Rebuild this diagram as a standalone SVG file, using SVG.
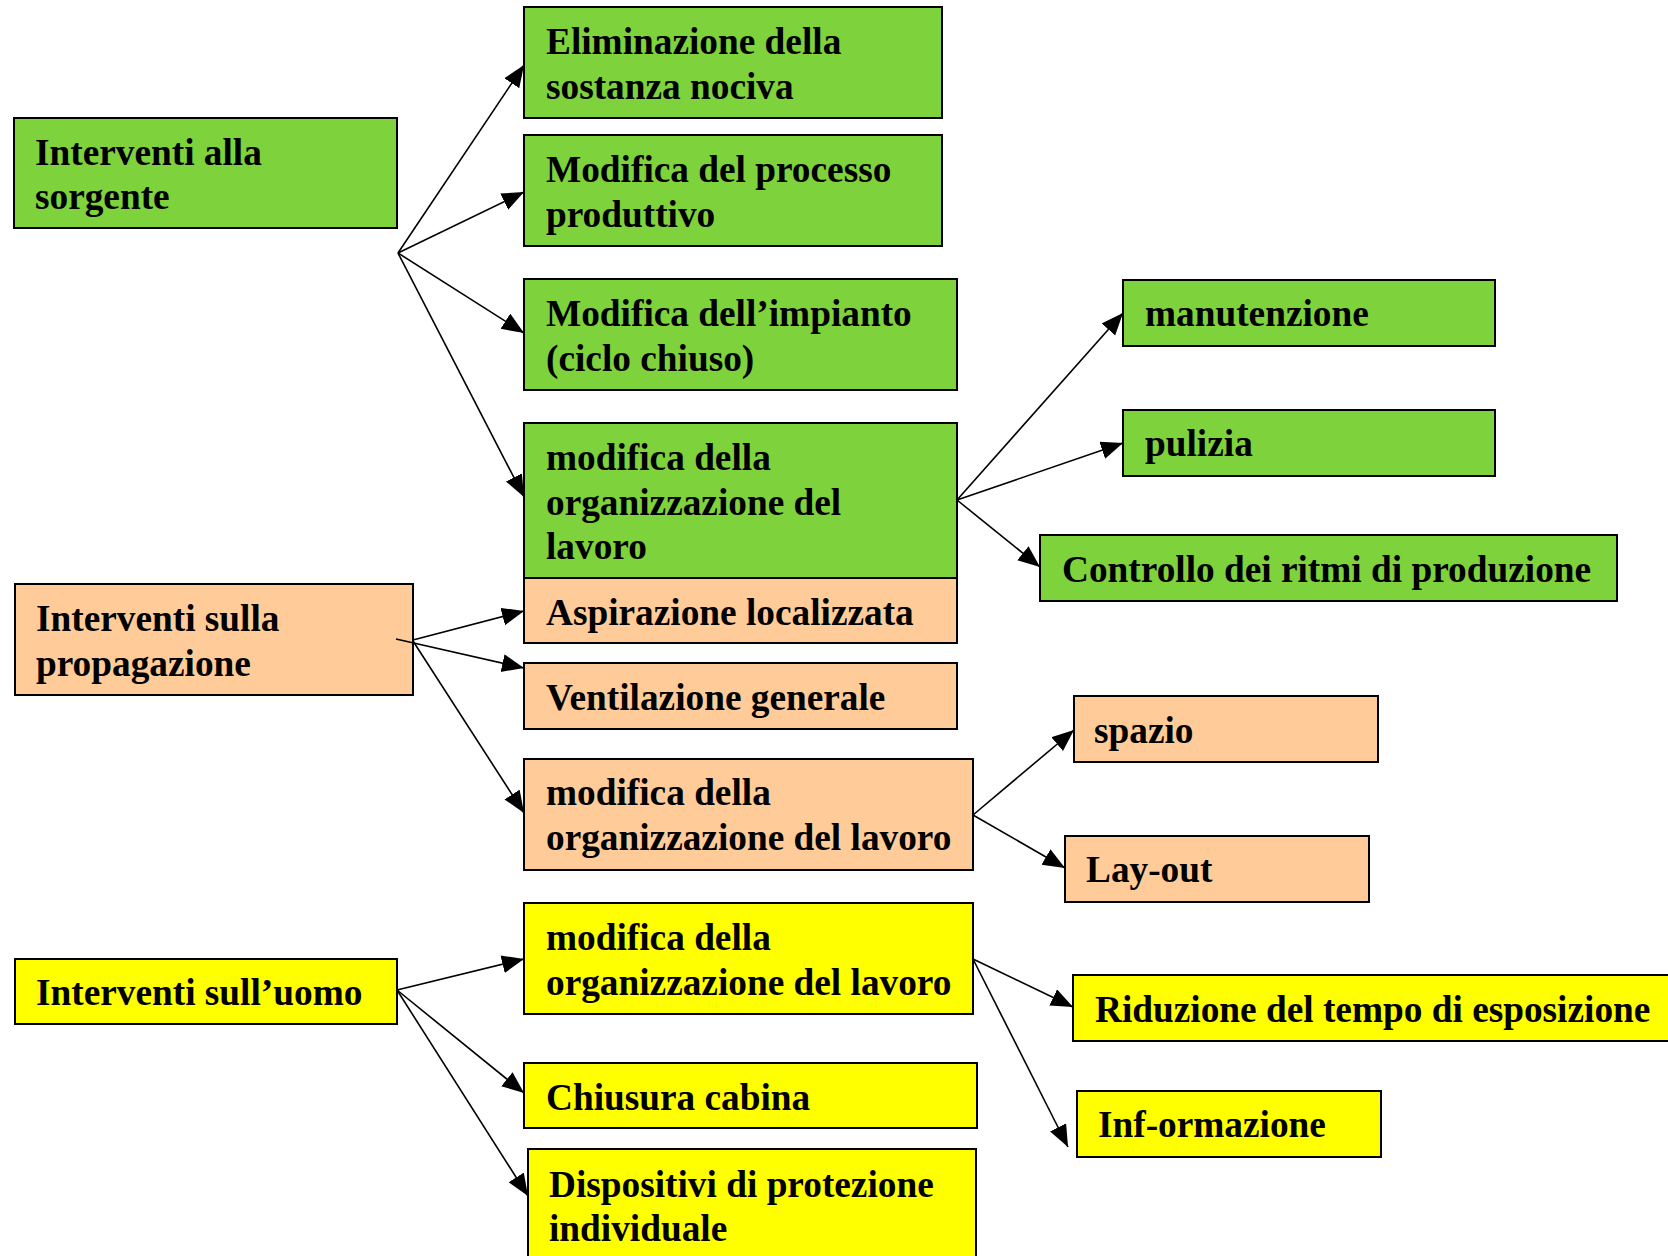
<svg xmlns="http://www.w3.org/2000/svg" width="1668" height="1256" viewBox="0 0 1668 1256">
<style>
text{font-family:"Liberation Serif","Times New Roman",serif;font-weight:bold;font-size:37.3px;fill:#000}
.g,.o,.y{stroke:#000;stroke-width:2}
.g{fill:#7ED23C}.o{fill:#FFCC99}.y{fill:#FFFF00}
#connectors line{stroke:#000;stroke-width:1.6;marker-end:url(#ah)}
</style>
<defs>
<marker id="ah" markerUnits="userSpaceOnUse" markerWidth="24" markerHeight="20" refX="22" refY="9" orient="auto">
<path d="M0,0 L22,9 L0,18 z" fill="#000"/>
</marker>
</defs>
<rect width="1668" height="1256" fill="#fff"/>

<g id="n_sorgente"><rect class="g" x="14" y="118" width="383" height="110"/><text x="35" y="164.5">Interventi alla</text><text x="35" y="209">sorgente</text></g>
<g id="n_elim"><rect class="g" x="524" y="7" width="418" height="111"/><text x="546" y="53.5">Eliminazione della</text><text x="546" y="98.5">sostanza nociva</text></g>
<g id="n_processo"><rect class="g" x="524" y="135" width="418" height="111"/><text x="546" y="181.5">Modifica del processo</text><text x="546" y="226.5">produttivo</text></g>
<g id="n_impianto"><rect class="g" x="524" y="279" width="433" height="111"/><text x="546" y="325.5">Modifica dell’impianto</text><text x="546" y="370.5">(ciclo chiuso)</text></g>
<g id="n_org_g"><rect class="g" x="524" y="423" width="433" height="155"/><text x="546" y="469.5">modifica della</text><text x="546" y="514.5">organizzazione del</text><text x="546" y="559">lavoro</text></g>
<g id="n_manut"><rect class="g" x="1123" y="280" width="372" height="66"/><text x="1145" y="325.5">manutenzione</text></g>
<g id="n_pulizia"><rect class="g" x="1123" y="410" width="372" height="66"/><text x="1145" y="455.5">pulizia</text></g>
<g id="n_ritmi"><rect class="g" x="1040" y="535" width="577" height="66"/><text x="1062" y="581.5">Controllo dei ritmi di produzione</text></g>

<g id="n_propag"><rect class="o" x="15" y="584" width="398" height="111"/><text x="36" y="630.5">Interventi sulla</text><text x="36" y="675.5">propagazione</text></g>
<g id="n_aspir"><rect class="o" x="524" y="578" width="433" height="65"/><text x="546" y="625">Aspirazione localizzata</text></g>
<g id="n_vent"><rect class="o" x="524" y="663" width="433" height="66"/><text x="546" y="710">Ventilazione generale</text></g>
<g id="n_org_o"><rect class="o" x="524" y="759" width="449" height="111"/><text x="546" y="805">modifica della</text><text x="546" y="850">organizzazione del lavoro</text></g>
<g id="n_spazio"><rect class="o" x="1074" y="696" width="304" height="66"/><text x="1094" y="742.5">spazio</text></g>
<g id="n_layout"><rect class="o" x="1065" y="836" width="304" height="66"/><text x="1086" y="882">Lay-out</text></g>

<g id="n_uomo"><rect class="y" x="15" y="959" width="382" height="65"/><text x="36" y="1005">Interventi sull’uomo</text></g>
<g id="n_org_y"><rect class="y" x="524" y="903" width="449" height="111"/><text x="546" y="949.5">modifica della</text><text x="546" y="994.5">organizzazione del lavoro</text></g>
<g id="n_cabina"><rect class="y" x="524" y="1063" width="453" height="65"/><text x="546" y="1109.5">Chiusura cabina</text></g>
<g id="n_dpi"><rect class="y" x="528" y="1149" width="448" height="115"/><text x="549" y="1196.5">Dispositivi di protezione</text><text x="549" y="1240.5">individuale</text></g>
<g id="n_riduz"><rect class="y" x="1073" y="975" width="610" height="66"/><text x="1095" y="1021.5">Riduzione del tempo di esposizione</text></g>
<g id="n_info"><rect class="y" x="1077" y="1091" width="304" height="66"/><text x="1098" y="1137">Inf-ormazione</text></g>

<g id="connectors">
<line x1="398" y1="253" x2="524" y2="65"/>
<line x1="398" y1="253" x2="524" y2="192"/>
<line x1="398" y1="253" x2="524" y2="333"/>
<line x1="398" y1="253" x2="524" y2="497"/>
<line x1="957" y1="500" x2="1123" y2="313"/>
<line x1="957" y1="500" x2="1123" y2="443"/>
<line x1="957" y1="500" x2="1040" y2="567"/>
<line x1="413" y1="640" x2="524" y2="611"/>
<line x1="396" y1="639" x2="524" y2="668"/>
<line x1="413" y1="641" x2="524" y2="813"/>
<line x1="973" y1="815" x2="1074" y2="730"/>
<line x1="973" y1="815" x2="1065" y2="868"/>
<line x1="397" y1="990" x2="524" y2="959"/>
<line x1="397" y1="990" x2="524" y2="1093"/>
<line x1="397" y1="990" x2="528" y2="1196"/>
<line x1="973" y1="959" x2="1073" y2="1007"/>
<line x1="973" y1="959" x2="1068" y2="1147"/>
</g>
</svg>
